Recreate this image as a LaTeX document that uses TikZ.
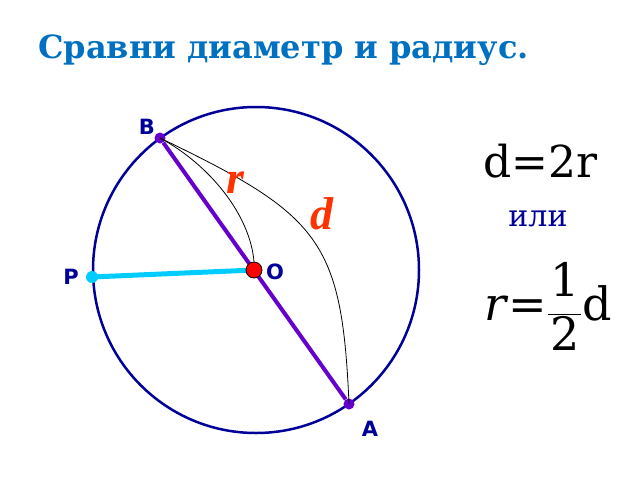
\documentclass[tikz,border=0pt]{standalone}
\usepackage{fontspec}
\usepackage{tikz}
\usetikzlibrary{positioning}
\setmainfont{DejaVu Serif}
\newfontfamily\labelfont{DejaVu Sans}
\newfontfamily\letterfont{Liberation Serif}
\definecolor{titleblue}{HTML}{0070C0}
\definecolor{navy}{HTML}{000099}
\definecolor{diampurple}{HTML}{6600CC}
\definecolor{radcyan}{HTML}{00CCFF}
\definecolor{letterred}{HTML}{FF3300}
\tikzset{pt/.style = {fill, circle, inner sep = 0, minimum size = 11}}
\tikzset{ptname/.style = {text = navy, font = \labelfont\bfseries\fontsize{21}{21}\selectfont}}
\tikzset{letter/.style = {text = letterred, font = \letterfont\bfseries\itshape\fontsize{46}{46}\selectfont}}
\tikzset{formula/.style = {font = \fontsize{44}{44}\selectfont, inner sep = 0}}

\begin{document}
\begin{tikzpicture}[x=1pt, y=-1pt]
      \useasboundingbox (0, 0) rectangle (640, 480);
      \node (title) at (38, 58) [anchor=base west, inner sep=0, text=titleblue,
        font=\bfseries\fontsize{32}{32}\selectfont] {Сравни диаметр и радиус.};

      \coordinate (c) at (256, 270);
      \draw [navy, line width=2.5] (c) circle [radius=163];

      \node (B) at (160, 138) [pt, diampurple] {};
      \node (A) at (349, 404) [pt, diampurple] {};
      \node (P) at (92, 277) [pt, radcyan, minimum size=12] {};

      \draw [diampurple, line width=4] (B) -- (A);
      \draw [radcyan, line width=5] (P.center) -- (254, 270);
      \node (O) at (254, 270) [pt, fill=red, draw=black, line width=0.8, minimum size=16] {};

      \draw [line width=0.8] (B.center) .. controls (210, 165) and (250, 215) .. (O.north);
      \draw [line width=0.8] (B.center) .. controls (320, 215) and (342, 240) .. (A.center);

      \node (Blabel) at (147, 127) [ptname] {B};
      \node (Olabel) at (275, 272) [ptname] {O};
      \node (Plabel) at (71, 277) [ptname] {P};
      \node (Alabel) at (370, 429) [ptname] {A};

      \node (rlabel) at (235, 183) [letter] {r};
      \node (dlabel) at (322, 214) [letter] {d};

      \node (dform) at (483, 177) [formula, anchor=base west] {d=2r};
      \node (ili) at (538, 219) [text=navy, font=\fontsize{30}{30}\selectfont] {или};
      \node (rform) at (548, 306) [formula, font=\fontsize{46}{46}\selectfont]
        {\textit{r}=$\displaystyle\frac{\raisebox{8pt}{\kern2pt1\kern2pt}}{\raisebox{-6pt}{\kern2pt2\kern2pt}}$d};
    \end{tikzpicture}
\end{document}
